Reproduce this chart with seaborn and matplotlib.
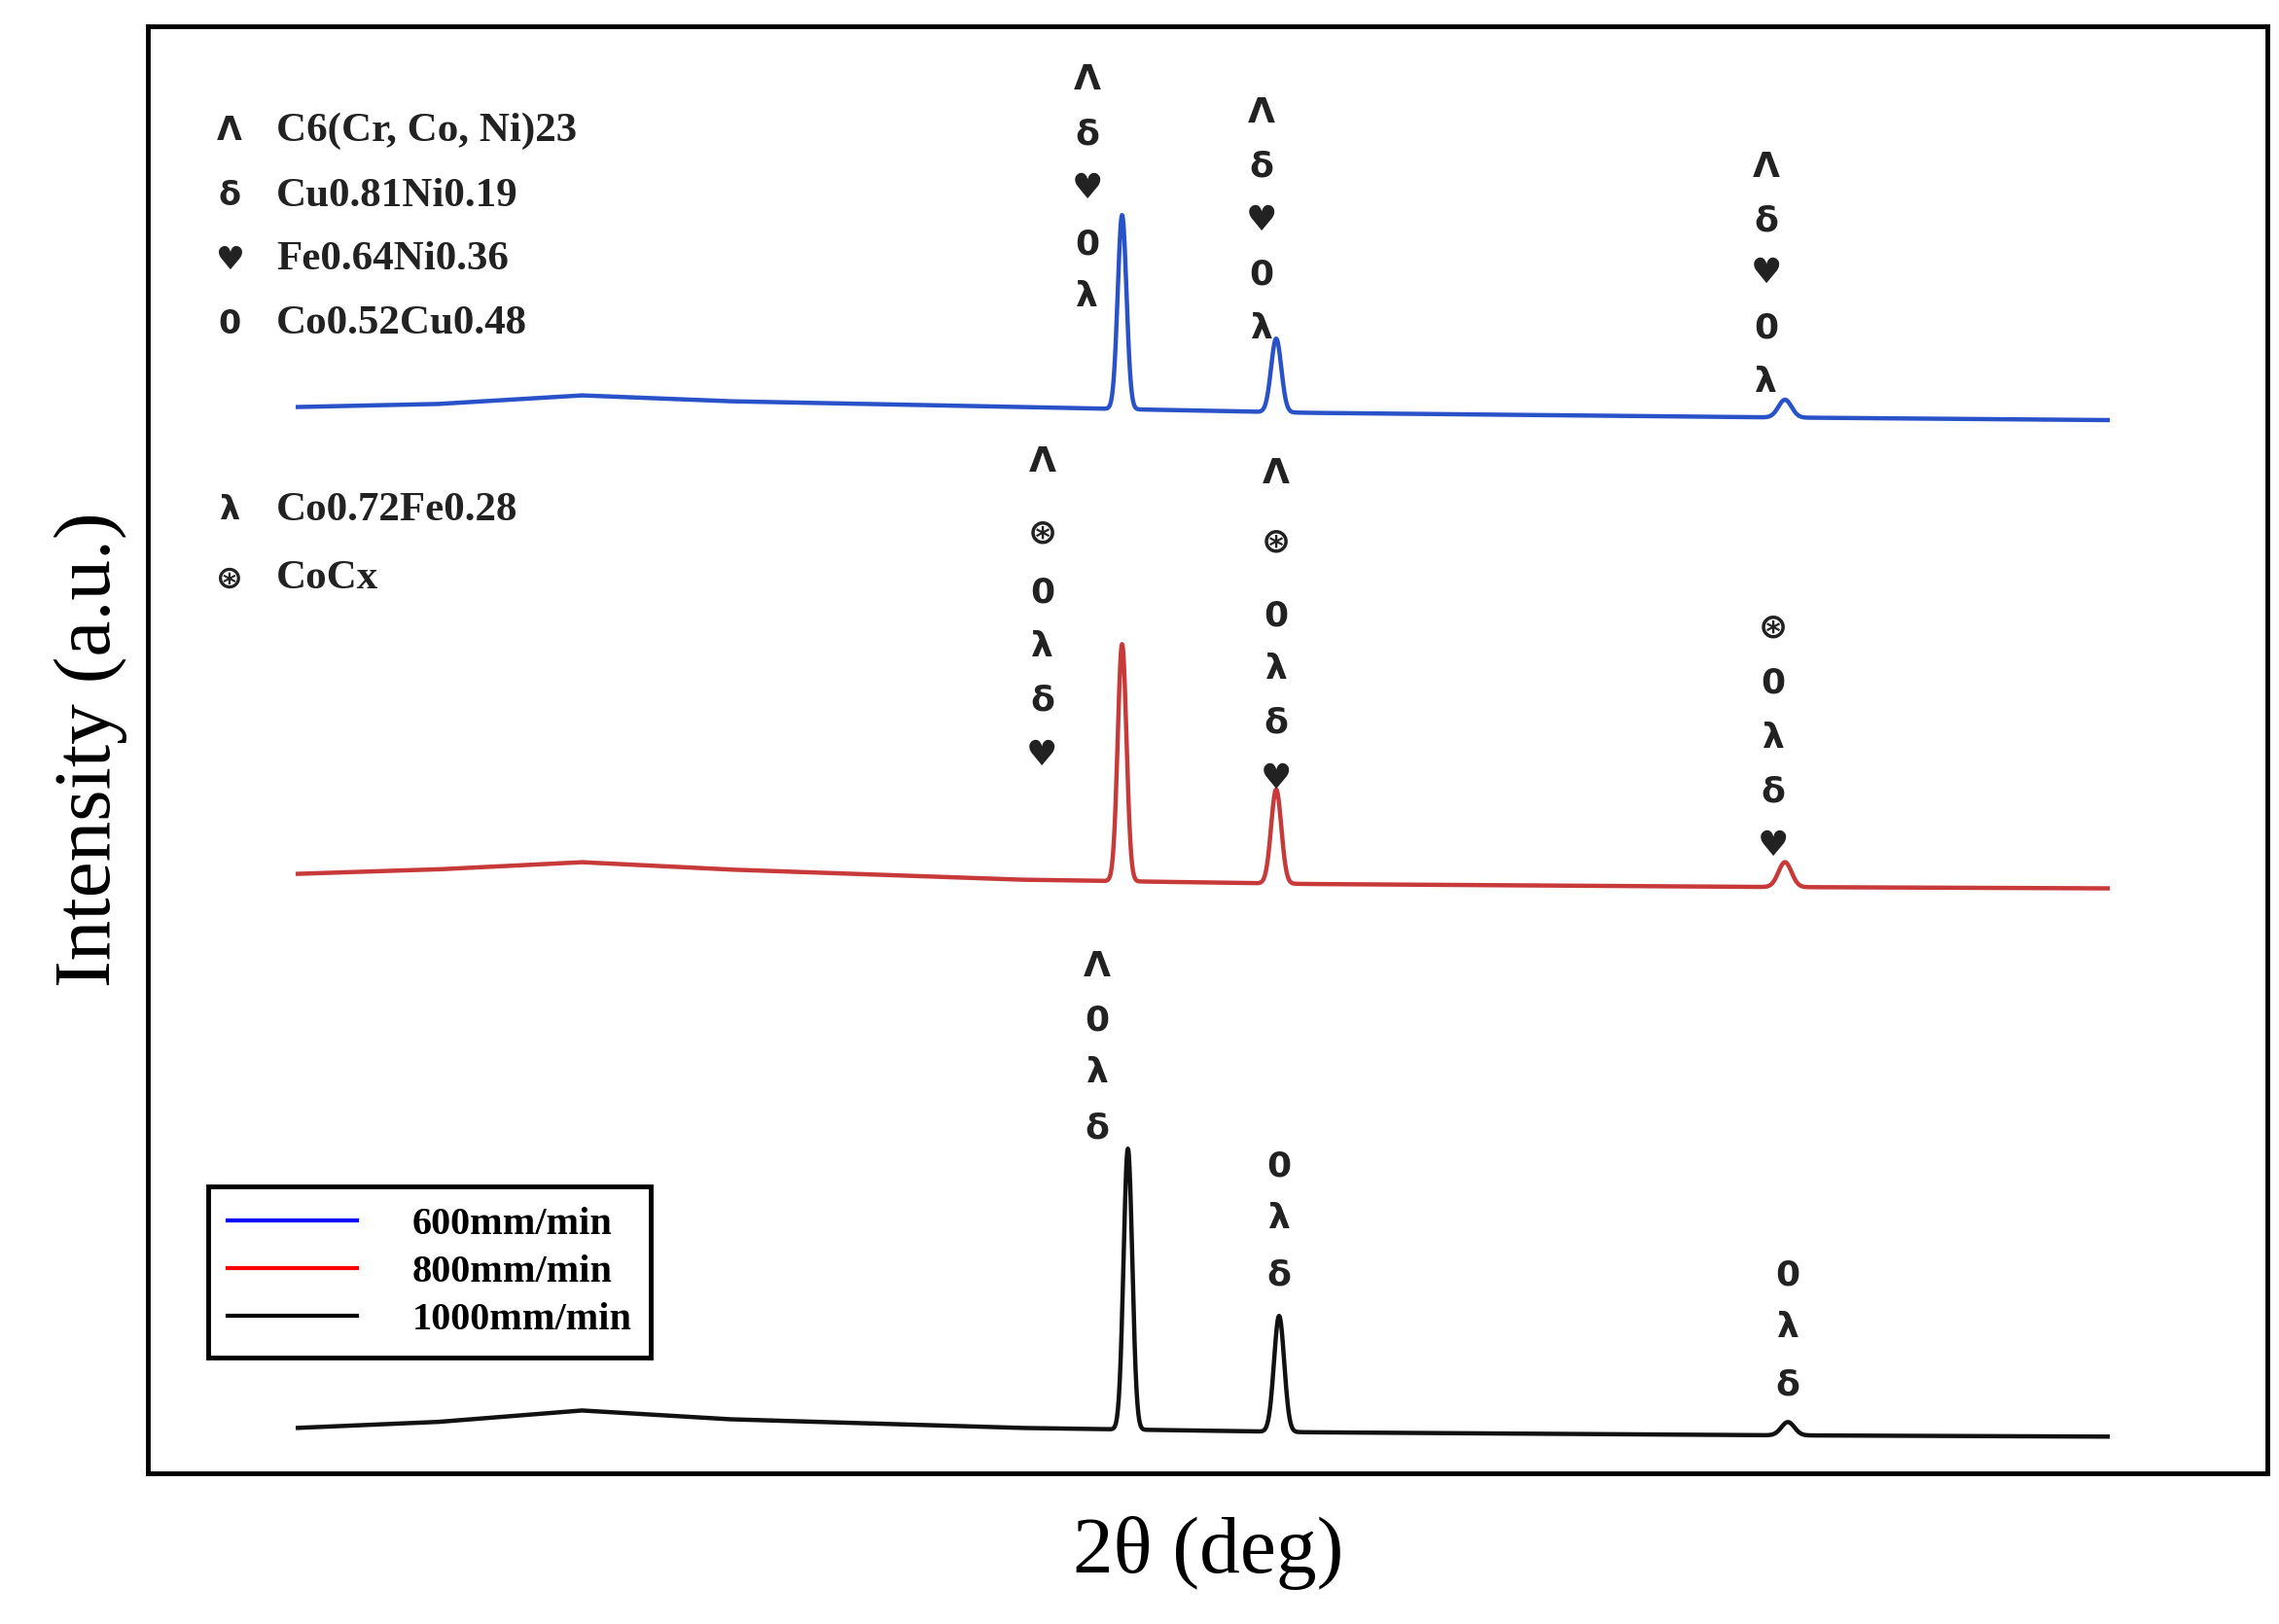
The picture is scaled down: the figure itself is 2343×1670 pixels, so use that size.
import numpy as np
import pandas as pd
import matplotlib
matplotlib.use("Agg")
import matplotlib.pyplot as plt
import seaborn as sns

# ---- data (x and intensity in arbitrary picture units) ----
series = ["600mm/min", "800mm/min", "1000mm/min"]
colors = ["#2a52c8", "#c83a3a", "#111111"]
base_x = [205, 300, 400, 500, 700, 900, 1200, 1450]
base_y = {
    "600mm/min": [830, 832, 838, 834, 830, 826, 823, 821],
    "800mm/min": [509, 512, 517, 512, 505, 502, 500, 499],
    "1000mm/min": [128, 132, 140, 134, 128, 125, 123, 122],
}
peak_x = {
    "600mm/min": [772, 878, 1228],
    "800mm/min": [772, 878, 1228],
    "1000mm/min": [776, 880, 1230],
}
peak_top = {
    "600mm/min": [962, 877, 835],
    "800mm/min": [667, 567, 517],
    "1000mm/min": [320, 205, 132],
}
peak_w = [3.0, 3.5, 4.5]

# annotation stacks: (x, [(label, y)])
ann = [
    (748, [("Λ", 1055), ("δ", 1017), ("♥", 980), ("0", 942), ("λ", 906)]),
    (868, [("Λ", 1032), ("δ", 995), ("♥", 958), ("0", 921), ("λ", 884)]),
    (1215, [("Λ", 995), ("δ", 958), ("♥", 922), ("0", 884), ("λ", 847)]),
    (717, [("Λ", 792), ("⊛", 743), ("0", 702), ("λ", 665), ("δ", 628), ("♥", 590)]),
    (878, [("Λ", 784), ("⊛", 737), ("0", 686), ("λ", 650), ("δ", 613), ("♥", 574)]),
    (1220, [("⊛", 678), ("0", 640), ("λ", 602), ("δ", 565), ("♥", 528)]),
    (755, [("Λ", 445), ("0", 408), ("λ", 372), ("δ", 334)]),
    (880, [("0", 308), ("λ", 272), ("δ", 233)]),
    (1230, [("0", 233), ("λ", 197), ("δ", 157)]),
]
phase_sym = ["Λ", "δ", "♥", "0", "λ", "⊛"]
phase_txt = ["C6(Cr, Co, Ni)23", "Cu0.81Ni0.19", "Fe0.64Ni0.36", "Co0.52Cu0.48",
             "Co0.72Fe0.28", "CoCx"]
phase_y = [1020, 975, 931, 887, 759, 712]

# ---- build curves ----
xs = np.linspace(205, 1450, 4000)
rows = []
for s in series:
    b = np.interp(xs, base_x, base_y[s])
    y = b.copy()
    for px, pt, w in zip(peak_x[s], peak_top[s], peak_w):
        h = pt - np.interp(px, base_x, base_y[s])
        y += h * np.exp(-0.5 * ((xs - px) / w) ** 2)
    rows.append(pd.DataFrame({"x": xs, "y": y, "s": s}))
df = pd.concat(rows)

fig = plt.figure(figsize=(23.43, 16.70), dpi=100)
ax = fig.add_axes([0.065, 0.093, 0.93, 0.891])
sns.lineplot(data=df, x="x", y="y", hue="s", palette=dict(zip(series, colors)),
             ax=ax, linewidth=3.2, legend=False)
ax.set_xlim(102, 1560)
ax.set_ylim(97, 1092)
ax.set_xticks([]); ax.set_yticks([])
for sp in ax.spines.values():
    sp.set_linewidth(3.5)
ax.set_xlabel("2θ (deg)", fontsize=60, family="Liberation Serif", labelpad=32)
ax.set_ylabel("Intensity (a.u.)", fontsize=60, family="Liberation Serif", labelpad=15)

for x, items in ann:
    for lab, y in items:
        ax.text(x, y, lab, ha="center", va="center", fontsize=26, color="#222222",
                family="DejaVu Sans", fontweight="bold")
for sym, txt, y in zip(phase_sym, phase_txt, phase_y):
    ax.text(158, y, sym, ha="center", va="center", fontsize=24, color="#222222",
            fontweight="bold")
    ax.text(190, y, txt, ha="left", va="center", fontsize=31, fontweight="bold",
            family="Liberation Serif", color="#222222")

from matplotlib.lines import Line2D
handles = [Line2D([], [], color=c, lw=3) for c in ["blue", "red", "black"]]
leg = ax.legend(handles, series, loc="lower left", bbox_to_anchor=(0.019, 0.066),
                prop={"family": "Liberation Serif", "weight": "bold", "size": 29},
                fancybox=False, edgecolor="black", framealpha=1, handlelength=3.3,
                handletextpad=1.4, borderpad=0.5, labelspacing=0.3)
leg.get_frame().set_linewidth(3.5)
fig.savefig("out.png", dpi=100)
